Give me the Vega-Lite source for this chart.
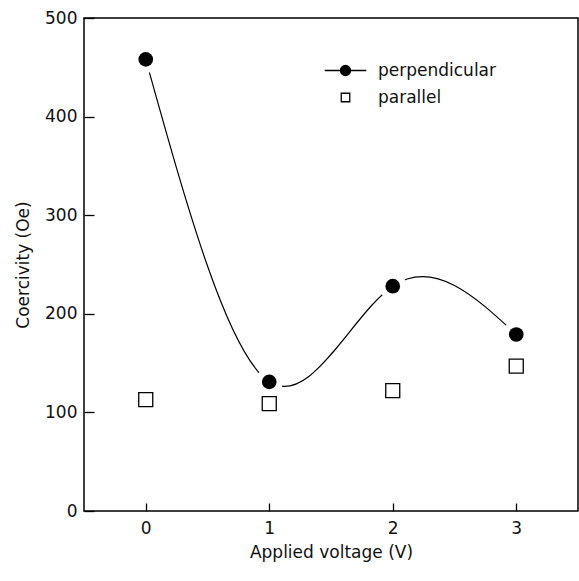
{
  "$schema": "https://vega.github.io/schema/vega-lite/v6.json",
  "width": 494,
  "height": 493,
  "autosize": {"type": "none"},
  "padding": {"left": 84, "top": 18, "right": 1, "bottom": 70},
  "background": "white",
  "config": {
    "view": {"stroke": "black", "strokeWidth": 1.5},
    "font": "DejaVu Sans",
    "axis": {
      "grid": false,
      "domain": false,
      "tickColor": "black",
      "tickWidth": 1.3,
      "labelFont": "DejaVu Sans",
      "labelFontSize": 17,
      "labelColor": "#111",
      "titleFont": "DejaVu Sans",
      "titleFontSize": 17,
      "titleFontWeight": "normal",
      "titleColor": "#111"
    },
    "legend": {
      "labelFont": "DejaVu Sans",
      "labelFontSize": 17,
      "labelColor": "#111"
    }
  },
  "data": {
    "values": [
      {"voltage": 0, "coercivity": 458, "series": "perpendicular"},
      {"voltage": 1, "coercivity": 131, "series": "perpendicular"},
      {"voltage": 2, "coercivity": 228, "series": "perpendicular"},
      {"voltage": 3, "coercivity": 179, "series": "perpendicular"},
      {"voltage": 0, "coercivity": 113, "series": "parallel"},
      {"voltage": 1, "coercivity": 109, "series": "parallel"},
      {"voltage": 2, "coercivity": 122, "series": "parallel"},
      {"voltage": 3, "coercivity": 147, "series": "parallel"}
    ]
  },
  "encoding": {
    "x": {
      "field": "voltage",
      "type": "quantitative",
      "scale": {"domain": [-0.5, 3.5], "nice": false, "zero": false},
      "axis": {"values": [0, 1, 2, 3], "tickSize": -8, "labelPadding": 17, "title": "Applied voltage (V)", "titlePadding": 8, "format": "d"}
    },
    "y": {
      "field": "coercivity",
      "type": "quantitative",
      "scale": {"domain": [0, 500], "nice": false},
      "axis": {"values": [0, 100, 200, 300, 400, 500], "tickSize": -10, "labelPadding": 17, "title": "Coercivity (Oe)", "titlePadding": 12}
    }
  },
  "layer": [
    {
      "transform": [{"filter": "datum.series === 'perpendicular'"}],
      "mark": {"type": "line", "interpolate": "natural", "stroke": "black", "strokeWidth": 1.2}
    },
    {
      "transform": [{"filter": "datum.series === 'perpendicular'"}],
      "mark": {"type": "point", "shape": "circle", "filled": true, "fill": "white", "opacity": 1, "size": 750, "strokeWidth": 0}
    },
    {
      "transform": [{"filter": "datum.series === 'perpendicular'"}],
      "mark": {"type": "point", "shape": "circle", "filled": true, "fill": "black", "opacity": 1, "size": 215, "strokeWidth": 0}
    },
    {
      "transform": [{"filter": "datum.series === 'parallel'"}],
      "mark": {"type": "point", "shape": "square", "filled": false, "stroke": "black", "opacity": 1, "size": 196, "strokeWidth": 1.3}
    },
    {
      "mark": {"type": "point", "filled": true, "stroke": "black", "strokeWidth": 1.3, "opacity": 0, "size": 169},
      "encoding": {
        "shape": {
          "field": "series",
          "type": "nominal",
          "scale": {
            "domain": ["perpendicular", "parallel"],
            "range": ["M-4.15,0H4.15M-1,0A1,1 0 1,0 1,0A1,1 0 1,0 -1,0Z", "M-0.85,-0.85H0.85V0.85H-0.85Z"]
          },
          "legend": {
            "title": null,
            "orient": "none",
            "legendX": 253,
            "legendY": 44,
            "symbolOpacity": 1,
            "symbolStrokeWidth": 1.3,
            "rowPadding": 9,
            "labelOffset": 24
          }
        },
        "fill": {
          "field": "series",
          "type": "nominal",
          "scale": {"domain": ["perpendicular", "parallel"], "range": ["black", "white"]},
          "legend": {
            "title": null,
            "orient": "none",
            "legendX": 253,
            "legendY": 44,
            "symbolOpacity": 1,
            "symbolStrokeWidth": 1.3,
            "rowPadding": 9,
            "labelOffset": 24
          }
        }
      }
    }
  ]
}
